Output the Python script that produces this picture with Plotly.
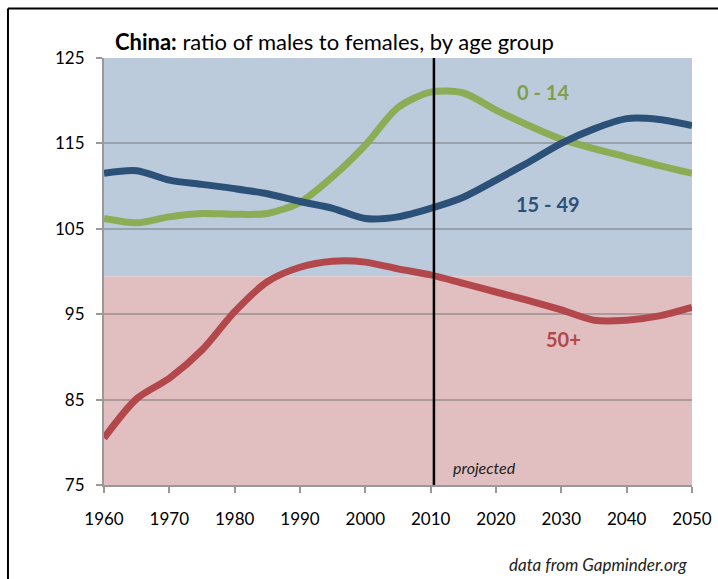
import plotly.graph_objects as go

years = [1960, 1965, 1970, 1975, 1980, 1985, 1990, 1995, 2000, 2005, 2010,
         2015, 2020, 2025, 2030, 2035, 2040, 2045, 2050]
age_0_14 = [106.2, 105.7, 106.4, 106.8, 106.7, 106.8, 108.1, 111.1, 114.8, 119.2, 121.0,
            120.9, 118.9, 117.1, 115.5, 114.4, 113.4, 112.4, 111.5]
age_15_49 = [111.5, 111.8, 110.7, 110.2, 109.7, 109.1, 108.2, 107.4, 106.2, 106.4, 107.4,
             108.7, 110.7, 112.8, 115.0, 116.7, 117.9, 117.8, 117.1]
age_50_plus = [80.5, 85.1, 87.5, 90.8, 95.3, 98.8, 100.5, 101.2, 101.1, 100.3, 99.6,
               98.6, 97.6, 96.6, 95.5, 94.3, 94.3, 94.8, 95.8]
y_ticks = [75, 85, 95, 105, 115, 125]
x_ticks = [1960, 1970, 1980, 1990, 2000, 2010, 2020, 2030, 2040, 2050]
band_split = 99.4
projection_start = 2010.5

FONT = "Lato"
GREEN = "#8aad55"
BLUE = "#2c5179"
RED = "#b3484c"

fig = go.Figure()
for vals, col in [(age_0_14, GREEN), (age_15_49, BLUE), (age_50_plus, RED)]:
    fig.add_trace(go.Scatter(x=years, y=vals, mode="lines",
                             line=dict(color=col, width=7, shape="spline", smoothing=0.8),
                             showlegend=False, hoverinfo="skip"))

# background bands
fig.add_shape(type="rect", xref="x", yref="y", x0=1960, x1=2050, y0=band_split, y1=125,
              fillcolor="#bccbdb", line_width=0, layer="below")
fig.add_shape(type="rect", xref="x", yref="y", x0=1960, x1=2050, y0=75, y1=band_split,
              fillcolor="#e1bec0", line_width=0, layer="below")
# projection line
fig.add_shape(type="line", xref="x", yref="y", x0=projection_start, x1=projection_start,
              y0=75, y1=125, line=dict(color="black", width=2.5))
# outer frame (left and top)
fig.add_shape(type="line", xref="paper", yref="paper", x0=-0.1633, x1=-0.1633,
              y0=1.1158, y1=-0.25, line=dict(color="black", width=2))
fig.add_shape(type="line", xref="paper", yref="paper", x0=-0.1633, x1=1.05,
              y0=1.1158, y1=1.1158, line=dict(color="black", width=2))

fig.add_annotation(xref="paper", yref="paper", x=0.016, y=1.0386, xanchor="left", yanchor="middle",
                   text="<b>China:</b> ratio of males to females, by age group", showarrow=False,
                   font=dict(family=FONT, size=22, color="black"))
fig.add_annotation(x=2027.2, y=121.0, text="<b>0 - 14</b>", showarrow=False,
                   font=dict(family=FONT, size=20, color="#7f9f4a"))
fig.add_annotation(x=2028.0, y=107.9, text="<b>15 - 49</b>", showarrow=False,
                   font=dict(family=FONT, size=20, color=BLUE))
fig.add_annotation(x=2030.3, y=92.1, text="<b>50+</b>", showarrow=False,
                   font=dict(family=FONT, size=20, color=RED))
fig.add_annotation(x=2018.3, y=77.0, text="<i>projected</i>", showarrow=False,
                   font=dict(family=FONT, size=16, color="#222222"))
fig.add_annotation(xref="paper", yref="paper", x=0.995, y=-0.187, xanchor="right", yanchor="middle",
                   text="<i>data from Gapminder.org</i>", showarrow=False,
                   font=dict(family=FONT, size=17, color="#222222"))

fig.update_layout(
    width=718, height=579, autosize=False,
    margin=dict(l=104, r=26, t=57.5, b=94, autoexpand=False),
    paper_bgcolor="white", plot_bgcolor="rgba(0,0,0,0)",
    font=dict(family=FONT, size=17, color="black"),
)
fig.update_xaxes(range=[1960, 2050], tickvals=x_ticks, showgrid=False,
                 showline=True, linecolor="#999999", linewidth=2,
                 ticks="outside", ticklen=6, tickcolor="#999999", tickwidth=2,
                 ticklabelstandoff=12, zeroline=False, automargin=False)
fig.update_yaxes(range=[75, 125], tickvals=y_ticks, showgrid=True,
                 gridcolor="rgba(110,110,110,0.45)", gridwidth=1.5,
                 showline=True, linecolor="#999999", linewidth=2,
                 ticks="outside", ticklen=6, tickcolor="#999999", tickwidth=2,
                 ticklabelstandoff=8, zeroline=False, automargin=False)

fig.write_html("out.html",
               config={"displayModeBar": False, "responsive": False},
               post_script="document.body.style.margin='0';document.body.style.overflow='hidden';")
